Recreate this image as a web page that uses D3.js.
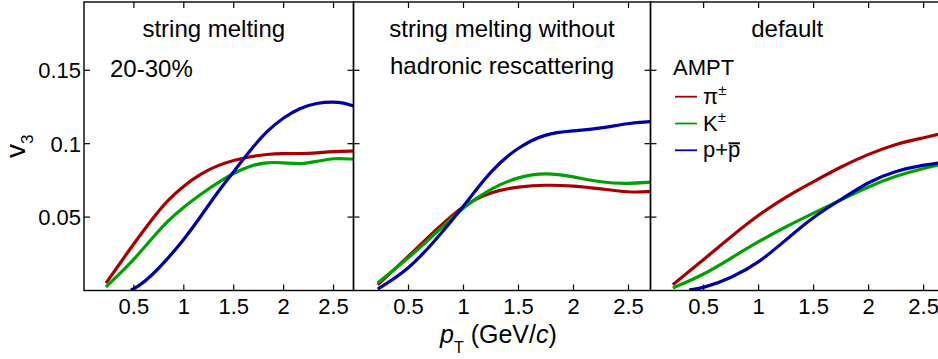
<!DOCTYPE html>
<html>
<head>
<meta charset="utf-8">
<script src="https://cdn.jsdelivr.net/npm/d3@7"></script>
<style>
  html, body { margin: 0; padding: 0; background: #fff; }
  svg { display: block; font-family: "Liberation Sans", Arial, sans-serif; }
</style>
</head>
<body>
<svg id="chart" width="938" height="359"></svg>
<script>
// v3(pT) from AMPT, 20-30% centrality, three model settings
const panelTitles = [["string melting"], ["string melting without", "hadronic rescattering"], ["default"]];
const speciesNames = ["pi", "K", "p"];
const speciesColors = ["#a80000", "#00a000", "#0000a8"];

const xTicks = [0.5, 1, 1.5, 2, 2.5];
const xTickLabels = ["0.5", "1", "1.5", "2", "2.5"];
const yTicks = [0.05, 0.1, 0.15];
const yTickLabels = ["0.05", "0.1", "0.15"];

// string melting
const smPtLight = [0.22, 0.33, 0.5, 0.67, 0.83, 1.0, 1.17, 1.33, 1.5, 1.67, 1.83, 2.0, 2.17, 2.33, 2.5, 2.7];
const smPion = [0.005, 0.0155, 0.032, 0.0475, 0.061, 0.0715, 0.0795, 0.085, 0.0887, 0.0913, 0.0928, 0.0933, 0.0932, 0.0937, 0.0948, 0.095];
const smKaon = [0.0024, 0.0096, 0.021, 0.0346, 0.047, 0.057, 0.0656, 0.073, 0.080, 0.0851, 0.0874, 0.0871, 0.086, 0.0878, 0.0903, 0.0894];
const smPtProton = [0.47, 0.55, 0.67, 0.83, 1.0, 1.17, 1.33, 1.5, 1.67, 1.83, 2.0, 2.17, 2.33, 2.5, 2.6, 2.7];
const smProton = [0.0003, 0.003, 0.0096, 0.021, 0.0346, 0.0504, 0.0663, 0.081, 0.096, 0.1085, 0.118, 0.1245, 0.1278, 0.1286, 0.1278, 0.1257];

// string melting without hadronic rescattering
const nhPt = [0.22, 0.5, 0.75, 1.0, 1.25, 1.5, 1.75, 2.0, 2.25, 2.5, 2.7];
const nhPion = [0.0039, 0.0232, 0.0414, 0.0584, 0.0674, 0.0708, 0.072, 0.0713, 0.0693, 0.0667, 0.0674];
const nhKaon = [0.0051, 0.0221, 0.0391, 0.0572, 0.0697, 0.0776, 0.0803, 0.0776, 0.0735, 0.0727, 0.0738];
const nhProton = [0.001, 0.0141, 0.0346, 0.0572, 0.0822, 0.098, 0.1071, 0.1087, 0.1105, 0.114, 0.115];

// default
const dfPtLight = [0.22, 0.5, 0.75, 1.0, 1.25, 1.5, 1.75, 2.0, 2.25, 2.5, 2.7];
const dfPion = [0.0039, 0.021, 0.0368, 0.0516, 0.064, 0.0742, 0.0844, 0.093, 0.0999, 0.104, 0.1075];
const dfKaon = [0.0017, 0.0107, 0.0221, 0.0334, 0.0436, 0.0527, 0.0618, 0.0708, 0.0781, 0.0833, 0.0865];
const dfPtProton = [0.37, 0.5, 0.75, 1.0, 1.25, 1.5, 1.75, 2.0, 2.25, 2.5, 2.7];
const dfProton = [0.0005, 0.0017, 0.0085, 0.0187, 0.0346, 0.0504, 0.062, 0.0742, 0.0817, 0.0856, 0.0875];

const zip = (xs, ys) => xs.map((x, i) => [x, ys[i]]);

const panels = [
  { left: 84, width: 269.5, xMin: 0, titleX: 1.3, series: [zip(smPtLight, smPion), zip(smPtLight, smKaon), zip(smPtProton, smProton)] },
  { left: 353.5, width: 297, xMin: 0, titleX: 1.35, series: [zip(nhPt, nhPion), zip(nhPt, nhKaon), zip(nhPt, nhProton)] },
  { left: 650.5, width: 297, xMin: 0.017, titleX: 1.26, series: [zip(dfPtLight, dfPion), zip(dfPtLight, dfKaon), zip(dfPtProton, dfProton)] }
];

const svg = d3.select("#chart");
const plotTop = 2, plotBottom = 290.5;

const y = d3.scaleLinear().domain([0, 0.1965]).range([plotBottom, plotTop]);

panels.forEach((p, pi) => {
  const x = d3.scaleLinear().domain([p.xMin, p.xMin + 2.7]).range([p.left, p.left + p.width]);
  const g = svg.append("g");

  g.append("clipPath")
    .attr("id", "clip" + pi)
    .append("rect")
    .attr("x", p.left).attr("y", plotTop)
    .attr("width", p.width).attr("height", plotBottom - plotTop)
  ;

  const line = d3.line()
    .x(d => x(d[0]))
    .y(d => y(d[1]))
    .curve(d3.curveBasis)
  ;

  g.selectAll(".curve")
    .data(p.series)
    .enter()
    .append("path")
    .attr("class", "curve")
    .attr("clip-path", "url(#clip" + pi + ")")
    .attr("d", line)
    .attr("fill", "none")
    .attr("stroke", (d, i) => speciesColors[i])
    .attr("stroke-width", 3.2)
  ;

  // inward ticks on all four sides
  const tk = 6;
  g.selectAll(".xtick-b").data(xTicks).enter().append("line")
    .attr("x1", d => x(d)).attr("x2", d => x(d))
    .attr("y1", plotBottom).attr("y2", plotBottom - tk)
    .attr("stroke", "#000").attr("stroke-width", 1.2);
  g.selectAll(".xtick-t").data(xTicks).enter().append("line")
    .attr("x1", d => x(d)).attr("x2", d => x(d))
    .attr("y1", plotTop).attr("y2", plotTop + tk)
    .attr("stroke", "#000").attr("stroke-width", 1.2);
  g.selectAll(".ytick-l").data(yTicks).enter().append("line")
    .attr("x1", p.left).attr("x2", p.left + tk)
    .attr("y1", d => y(d)).attr("y2", d => y(d))
    .attr("stroke", "#000").attr("stroke-width", 1.2);
  g.selectAll(".ytick-r").data(yTicks).enter().append("line")
    .attr("x1", p.left + p.width).attr("x2", p.left + p.width - tk)
    .attr("y1", d => y(d)).attr("y2", d => y(d))
    .attr("stroke", "#000").attr("stroke-width", 1.2);

  g.append("rect")
    .attr("x", p.left).attr("y", plotTop)
    .attr("width", p.width).attr("height", plotBottom - plotTop)
    .attr("fill", "none")
    .attr("stroke", "#000")
    .attr("stroke-width", 1.4)
  ;

  g.selectAll(".xlabel")
    .data(xTicks)
    .enter()
    .append("text")
    .attr("x", d => x(d))
    .attr("y", 314)
    .attr("text-anchor", "middle")
    .attr("font-size", 22)
    .text((d, i) => xTickLabels[i])
  ;

  g.selectAll(".title")
    .data(panelTitles[pi])
    .enter()
    .append("text")
    .attr("x", x(p.titleX))
    .attr("y", (d, i) => 37 + i * 36.5)
    .attr("text-anchor", "middle")
    .attr("font-size", 24)
    .text(d => d)
  ;
});

// y axis labels (left panel only)
svg.selectAll(".ylabel")
  .data(yTicks)
  .enter()
  .append("text")
  .attr("x", 81)
  .attr("y", d => y(d))
  .attr("dy", "0.36em")
  .attr("text-anchor", "end")
  .attr("font-size", 22)
  .text((d, i) => yTickLabels[i])
;

svg.append("text")
  .attr("x", 110)
  .attr("y", 77)
  .attr("font-size", 24)
  .text("20-30%")
;

const yl = svg.append("text")
  .attr("transform", "translate(25,158) rotate(-90)")
  .attr("font-size", 28);
yl.append("tspan").text("v");
yl.append("tspan").attr("font-size", 17).attr("dy", 8).text("3");

const xl = svg.append("text")
  .attr("x", 440)
  .attr("y", 343)
  .attr("font-size", 25);
xl.append("tspan").attr("font-style", "italic").text("p");
xl.append("tspan").attr("font-size", 16).attr("dy", 10).text("T");
xl.append("tspan").attr("dy", -10).text(" (GeV/");
xl.append("tspan").attr("font-style", "italic").text("c");
xl.append("tspan").text(")");

// legend
const legend = svg.append("g");
legend.append("text")
  .attr("x", 673)
  .attr("y", 75)
  .attr("font-size", 22)
  .text("AMPT");

const legendY = d3.scalePoint().domain(speciesNames).range([96.7, 150.3]);
let barSpan = null;
speciesNames.forEach((s, i) => {
  legend.append("line")
    .attr("x1", 675).attr("x2", 697)
    .attr("y1", legendY(s)).attr("y2", legendY(s))
    .attr("stroke", speciesColors[i])
    .attr("stroke-width", 1.8);
  const t = legend.append("text")
    .attr("x", 703)
    .attr("y", legendY(s) + 7)
    .attr("font-size", 22);
  if (s === "pi") {
    t.append("tspan").text("\u03c0");
    t.append("tspan").attr("font-size", 15).attr("dy", -9).text("\u00b1");
  } else if (s === "K") {
    t.append("tspan").text("K");
    t.append("tspan").attr("font-size", 15).attr("dy", -9).text("\u00b1");
  } else {
    t.append("tspan").text("p+");
    barSpan = t.append("tspan").text("p");
  }
});

// antiproton bar over the last p
const bb = barSpan.node().getBBox();
legend.append("line")
  .attr("x1", bb.x + 0.5).attr("x2", bb.x + bb.width - 0.5)
  .attr("y1", legendY("p") - 7).attr("y2", legendY("p") - 7)
  .attr("stroke", "#000").attr("stroke-width", 2);
</script>
</body>
</html>
